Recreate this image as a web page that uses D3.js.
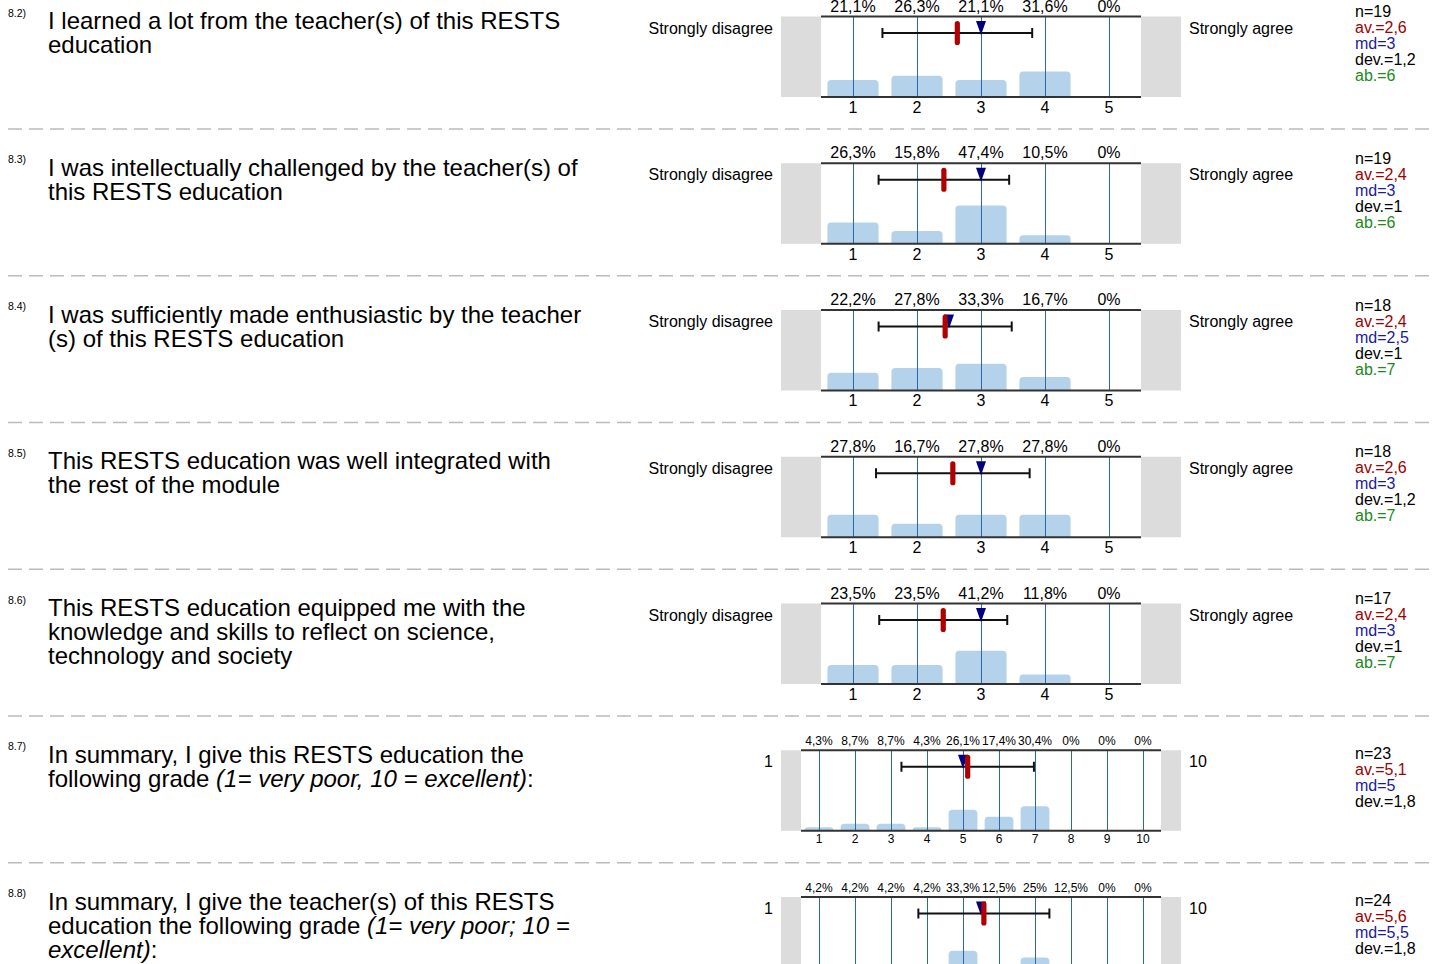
<!DOCTYPE html>
<html>
<head>
<meta charset="UTF-8">
<title>RESTS education evaluation</title>
<script src="https://d3js.org/d3.v7.min.js"></script>
<style>
  body { margin: 0; background: #fff; }
  svg { font-family: "Liberation Sans", Arial, sans-serif; display: block; }
</style>
</head>
<body>
<svg id="chart"></svg>
<script>
// question numbers and wrapped question text (*...* = italic)
const qNumbers = ["8.2)", "8.3)", "8.4)", "8.5)", "8.6)", "8.7)", "8.8)"];
const qLines = [
  ["I learned a lot from the teacher(s) of this RESTS", "education"],
  ["I was intellectually challenged by the teacher(s) of", "this RESTS education"],
  ["I was sufficiently made enthusiastic by the teacher", "(s) of this RESTS education"],
  ["This RESTS education was well integrated with", "the rest of the module"],
  ["This RESTS education equipped me with the", "knowledge and skills to reflect on science,", "technology and society"],
  ["In summary, I give this RESTS education the", "following grade *(1= very poor, 10 = excellent)*:"],
  ["In summary, I give the teacher(s) of this RESTS", "education the following grade *(1= very poor; 10 =*", "*excellent)*:"]
];
const leftLabels = ["Strongly disagree", "Strongly disagree", "Strongly disagree", "Strongly disagree", "Strongly disagree", "1", "1"];
const rightLabels = ["Strongly agree", "Strongly agree", "Strongly agree", "Strongly agree", "Strongly agree", "10", "10"];

// answer distributions in %
const pct82 = [21.1, 26.3, 21.1, 31.6, 0];
const pct83 = [26.3, 15.8, 47.4, 10.5, 0];
const pct84 = [22.2, 27.8, 33.3, 16.7, 0];
const pct85 = [27.8, 16.7, 27.8, 27.8, 0];
const pct86 = [23.5, 23.5, 41.2, 11.8, 0];
const pct87 = [4.3, 8.7, 8.7, 4.3, 26.1, 17.4, 30.4, 0, 0, 0];
const pct88 = [4.2, 4.2, 4.2, 4.2, 33.3, 12.5, 25, 12.5, 0, 0];
const percents = [pct82, pct83, pct84, pct85, pct86, pct87, pct88];

// summary statistics
const nValues = [19, 19, 18, 18, 17, 23, 24];
const means = [2.63, 2.42, 2.44, 2.56, 2.41, 5.13, 5.58];
const medians = [3, 3, 2.5, 3, 3, 5, 5.5];
const devs = [1.17, 1.02, 1.04, 1.2, 1.0, 1.84, 1.82];
const abstentions = [6, 6, 7, 7, 7, null, null];

const W = 1434, H = 964;
const firstTop = 16.5, blockStep = 146.75;
const boxLeft = 781, boxRight = 1181, boxH = 80.5;

const fmt = d3.formatLocale({ decimal: ",", thousands: ".", grouping: [3], currency: ["", ""] }).format(".1~f");

const svg = d3.select('#chart').attr('width', W).attr('height', H);

function topRounded(x0, y0, w, h, r) {
  r = Math.min(r, h, w / 2);
  return `M${x0},${y0 + h}V${y0 + r}Q${x0},${y0} ${x0 + r},${y0}H${x0 + w - r}Q${x0 + w},${y0} ${x0 + w},${y0 + r}V${y0 + h}Z`;
}

percents.forEach((pcts, i) => {
  const top = firstTop + i * blockStep;
  const k = pcts.length;
  const small = k > 5;
  const pad = small ? 20 : 40;
  const cats = d3.range(1, k + 1);
  const g = svg.append('g').attr('transform', `translate(0,${top})`);

  const x = d3.scaleBand().domain(cats).range([boxLeft + pad, boxRight - pad]);
  const xv = d3.scaleLinear().domain([0.5, k + 0.5]).range([boxLeft + pad, boxRight - pad]);
  const y = d3.scaleLinear().domain([0, 100]).range([boxH, 0]);
  const bw = x.bandwidth();

  // question number and text
  g.append('text').attr('x', 8).attr('y', 0).attr('font-size', 10.5).text(qNumbers[i]);
  qLines[i].forEach((line, j) => {
    const t = g.append('text').attr('x', 48).attr('y', 12.5 + j * 24).attr('font-size', 24).attr('fill', '#000');
    line.split('*').forEach((part, p) => {
      if (part) t.append('tspan').attr('font-style', p % 2 ? 'italic' : 'normal').text(part);
    });
  });

  // scale end labels
  g.append('text').attr('x', 773).attr('y', 17).attr('text-anchor', 'end').attr('font-size', 16).text(leftLabels[i]);
  g.append('text').attr('x', 1189).attr('y', 17).attr('font-size', 16).text(rightLabels[i]);

  // frame
  g.append('rect').attr('x', boxLeft).attr('y', 0).attr('width', boxRight - boxLeft).attr('height', boxH).attr('fill', '#dcdcdc');
  g.append('rect').attr('x', boxLeft + pad).attr('y', 0).attr('width', boxRight - boxLeft - 2 * pad).attr('height', boxH).attr('fill', '#fff');

  // bars
  g.selectAll('.bar').data(cats).enter().append('path')
    .attr('class', 'bar')
    .attr('d', c => topRounded(x(c) + bw * 0.1, y(pcts[c - 1]), bw * 0.8, boxH - y(pcts[c - 1]), 4))
    .attr('fill', '#b4d3eb');

  // category lines (snapped to pixel for a crisp 1px line)
  const cx = c => Math.round(x(c) + bw / 2) + 0.5;
  g.selectAll('.cat').data(cats).enter().append('line')
    .attr('x1', cx).attr('x2', cx)
    .attr('y1', 0).attr('y2', boxH)
    .attr('stroke', '#2b68b2').attr('stroke-width', 1);

  // top and bottom rules
  [0, boxH].forEach(yy => {
    g.append('line').attr('x1', boxLeft + pad).attr('x2', boxRight - pad)
      .attr('y1', yy).attr('y2', yy).attr('stroke', '#333').attr('stroke-width', 2);
  });

  // percentages (top axis) and categories (bottom axis)
  const fs = small ? 12 : 16;
  const topAxis = g.append('g')
    .call(d3.axisTop(x).tickSize(0).tickPadding(small ? 5.5 : 5).tickFormat(c => fmt(pcts[c - 1]) + '%'));
  topAxis.select('.domain').remove();
  topAxis.attr('font-size', fs).attr('font-family', null);

  const botAxis = g.append('g').attr('transform', `translate(0,${boxH})`)
    .call(d3.axisBottom(x).tickSize(0).tickPadding(small ? 4.2 : 4.6));
  botAxis.select('.domain').remove();
  botAxis.attr('font-size', fs).attr('font-family', null);

  // deviation bar
  const ey = 16.5;
  const lo = xv(means[i] - devs[i]), hi = xv(means[i] + devs[i]);
  g.append('line').attr('x1', lo).attr('x2', hi).attr('y1', ey).attr('y2', ey).attr('stroke', '#111').attr('stroke-width', 2);
  [lo, hi].forEach(xx => {
    g.append('line').attr('x1', xx).attr('x2', xx).attr('y1', ey - 5).attr('y2', ey + 5).attr('stroke', '#111').attr('stroke-width', 2);
  });

  // median
  const mx = xv(medians[i]);
  g.append('path').attr('d', `M${mx - 5},4.5L${mx + 5},4.5L${mx},18.5Z`).attr('fill', '#000080');

  // mean
  g.append('rect').attr('x', xv(means[i]) - 2.6).attr('y', ey - 12).attr('width', 5.2).attr('height', 24)
    .attr('rx', 2.6).attr('fill', '#b00000');

  // statistics
  const stats = [
    [`n=${nValues[i]}`, '#000'],
    [`av.=${fmt(means[i])}`, '#a00000'],
    [`md=${fmt(medians[i])}`, '#1a1aa0'],
    [`dev.=${fmt(devs[i])}`, '#000']
  ];
  if (abstentions[i] !== null) stats.push([`ab.=${abstentions[i]}`, '#1a8a1a']);
  const sy = 0.5 + (5 - stats.length) * 8;
  g.selectAll('.stat').data(stats).enter().append('text')
    .attr('x', 1355).attr('y', (d, j) => sy + j * 16)
    .attr('font-size', 16).attr('fill', d => d[1]).text(d => d[0]);

  // dashed separator
  if (i < percents.length - 1) {
    g.append('line').attr('x1', 8).attr('x2', 1430).attr('y1', 112.5).attr('y2', 112.5)
      .attr('stroke', '#bbb').attr('stroke-width', 1.5).attr('stroke-dasharray', '14,7');
  }
});
</script>
</body>
</html>
